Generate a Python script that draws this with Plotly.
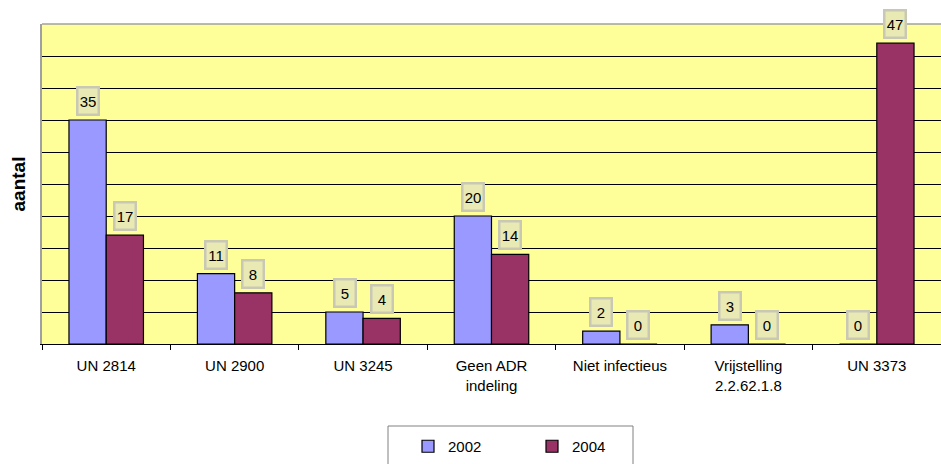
import plotly.graph_objects as go

categories = ["UN 2814", "UN 2900", "UN 3245", "Geen ADR<br>indeling", "Niet infectieus",
              "Vrijstelling<br>2.2.62.1.8", "UN 3373"]
values_2002 = [35, 11, 5, 20, 2, 3, 0]
values_2004 = [17, 8, 4, 14, 0, 0, 47]
series_names = ["2002", "2004"]

fig = go.Figure()
fig.add_trace(go.Bar(x=categories, y=values_2002, name=series_names[0],
                     marker=dict(color="#9999FF", line=dict(color="black", width=1.2))))
fig.add_trace(go.Bar(x=categories, y=values_2004, name=series_names[1],
                     marker=dict(color="#993366", line=dict(color="black", width=1.2))))

annotations = []
for vals, shift in ((values_2002, -18.5), (values_2004, 18.5)):
    for c, v in zip(categories, vals):
        annotations.append(dict(
            x=c, y=v, xref="x", yref="y", text=str(v), showarrow=False,
            xshift=shift, yshift=4, yanchor="bottom",
            font=dict(family="Liberation Sans, Arial", size=15, color="black"),
            bgcolor="#E9E9B4", bordercolor="#C8C8B4", borderwidth=2.5, borderpad=1,
            width=17, height=23,
        ))

fig.update_layout(
    width=941, height=464,
    margin=dict(l=42, r=0, t=24, b=120, autoexpand=False),
    paper_bgcolor="white",
    plot_bgcolor="#FFFF99",
    barmode="group",
    bargap=0.42,
    bargroupgap=0,
    font=dict(family="Liberation Sans, Arial", size=14, color="black"),
    showlegend=True,
    legend=dict(orientation="h", x=(408 - 42) / 899, xanchor="left",
                y=-(430 - 344) / 320, yanchor="top",
                borderwidth=0, bgcolor="rgba(0,0,0,0)",
                font=dict(size=15, family="Liberation Sans, Arial"),
                entrywidth=79, entrywidthmode="pixels", itemwidth=30),
    annotations=annotations,
    shapes=[
        dict(type="line", xref="paper", yref="paper", x0=0, x1=1, y0=1, y1=1,
             line=dict(color="#A0A0A0", width=1.5)),
        dict(type="rect", xref="paper", yref="paper",
             x0=(388 - 42) / 899, x1=(633 - 42) / 899,
             y0=-(470 - 344) / 320, y1=-(426 - 344) / 320,
             line=dict(color="#808080", width=1), fillcolor="rgba(0,0,0,0)"),
    ],
)
fig.update_xaxes(
    showline=True, linecolor="black", linewidth=1,
    ticks="outside", tickson="boundaries", ticklen=5, tickcolor="black",
    showgrid=False, tickfont=dict(size=15), ticklabelstandoff=8,
    automargin=False,
)
fig.update_yaxes(
    range=[0, 50], dtick=5, showticklabels=False,
    showgrid=True, gridcolor="black", gridwidth=1,
    showline=True, linecolor="#A0A0A0", linewidth=1.5,
    zeroline=False, automargin=False,
    title=dict(text="<b>aantal</b>", font=dict(size=19), standoff=10),
)

fig.write_html("out.html",
               config={"displayModeBar": False},
               post_script="document.body.style.margin='0';document.body.style.overflow='hidden';")
